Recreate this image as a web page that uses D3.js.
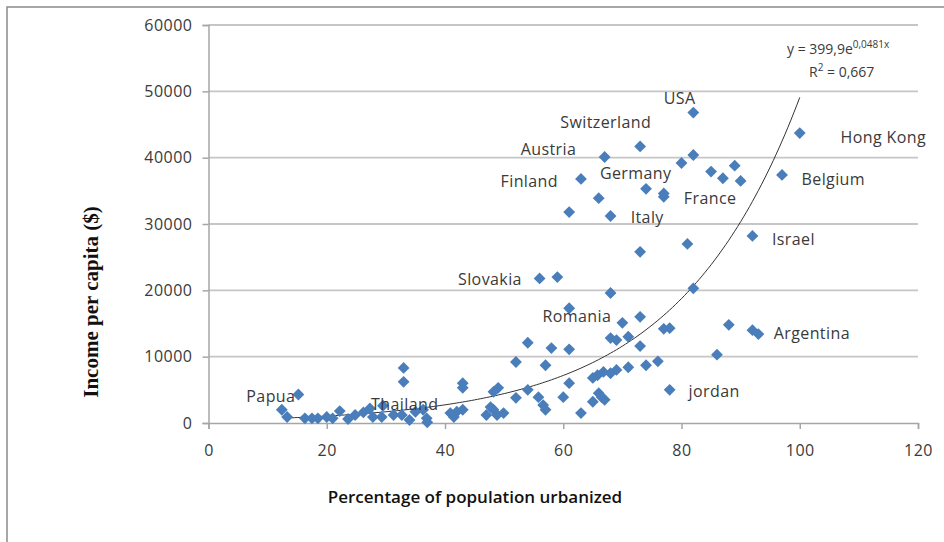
<!DOCTYPE html>
<html><head><meta charset="utf-8">
<script src="https://cdn.jsdelivr.net/npm/d3@7"></script>
<style>body{margin:0;background:#fff}svg{display:block}</style>
</head><body><svg id="c" width="944" height="542"></svg>
<script>
// Percentage of population urbanized (x) and income per capita in $ (y)
const urbanPct = [12.4,13.3,15.2,16.3,17.5,18.5,20,21,22.2,23.6,24.8,26.2,27.3,27.8,29.3,29.5,31.3,32.7,33,33,34,35,36.3,36.9,37,40.9,41.5,42,43,43,43,47,47.7,48.2,48.2,48.8,49,49.9,52,52,54,54,55.8,56.6,57,57,58,56,59,60,61,61,61,63,68,65,65.8,66.8,68,69,71,65,66,67,66.5,68,69,71,70,73,73,74,76,77,78,78,82,73,81,92,88,92,93,86,61,68,66,63,74,77,77,67,73,82,82,80,85,87,89,90,97,100];
const incomeUSD = [2000,900,4300,700,700,700,900,700,1800,600,1200,1600,2200,900,900,2600,1200,1200,8300,6200,450,1700,2000,700,100,1500,900,1700,2000,5300,6000,1200,2400,2000,4700,1200,5300,1500,9200,3800,12100,5000,3900,2700,2000,8700,11300,21800,22000,3900,17300,11100,6000,1500,19600,6800,7200,7700,7500,8000,8400,3200,4500,3500,3900,12800,12500,13000,15100,16000,11600,8700,9300,14200,14300,5000,20300,25800,27000,28200,14800,14000,13400,10300,31800,31200,33900,36800,35300,34600,34100,40100,41700,46800,40400,39200,37900,36900,38800,36500,37400,43700];
// Country labels: name and text anchor in data units
const labelNames = ["USA","Switzerland","Austria","Finland","Germany","France","Italy","Hong Kong","Belgium","Israel","Slovakia","Romania","Argentina","jordan","Papua","Thailand"];
const labelX = [77.0,59.5,52.8,49.4,66.2,80.4,71.4,106.9,100.3,95.3,42.2,56.5,95.6,81.2,6.4,27.5];
const labelY = [48950,45250,41300,36400,37600,33800,31000,43000,36700,27700,21700,16000,13500,4700,4000,2800];
const xTicks = [0,20,40,60,80,100,120];
const yTicks = [0,10000,20000,30000,40000,50000,60000];
// Exponential trend line (from the chart's equation)
const trendA = 399.9, trendB = 0.0481, trendRange = [14,100];

const svg = d3.select("#c");
svg.append("rect").attr("x",7).attr("y",7).attr("width",960).attr("height",560)
  .attr("fill","#fff").attr("stroke","#8a8a8a").attr("stroke-width",1.5);

const x = d3.scaleLinear().domain([0,120]).range([208.5,918]);
const y = d3.scaleLinear().domain([0,60000]).range([423,25]);

// gridlines
svg.append("g").selectAll("line").data(yTicks.filter(d=>d>0)).join("line")
  .attr("x1",x(0)).attr("x2",x(120)).attr("y1",d=>y(d)).attr("y2",d=>y(d))
  .attr("stroke","#c6c6c6").attr("stroke-width",1.8);

const tickFont = "'Open Sans', sans-serif";
const yAxis = svg.append("g").attr("transform",`translate(${x(0)},0)`)
  .call(d3.axisLeft(y).tickValues(yTicks).tickSize(6).tickPadding(10).tickFormat(d3.format("d")));
const xAxis = svg.append("g").attr("transform",`translate(0,${y(0)})`)
  .call(d3.axisBottom(x).tickValues(xTicks).tickSize(6).tickPadding(16));
[yAxis,xAxis].forEach(g=>{
  g.select(".domain").attr("stroke","#a6a6a6").attr("stroke-width",1.5);
  g.selectAll(".tick line").attr("stroke","#a6a6a6").attr("stroke-width",1.5);
  g.selectAll(".tick text").attr("fill","#3a3a3a").style("font-family",tickFont)
    .style("font-size","16px").style("letter-spacing","0.5px");
});

// trend line
const tx = d3.range(trendRange[0], trendRange[1]+0.001, 0.5);
svg.append("path").datum(tx)
  .attr("d", d3.line().x(d=>x(d)).y(d=>y(trendA*Math.exp(trendB*d))))
  .attr("fill","none").attr("stroke","#333").attr("stroke-width",1);

// points
const pts = urbanPct.map((u,i)=>({u, v:incomeUSD[i]}));
svg.append("g").selectAll("path").data(pts).join("path")
  .attr("d", d3.symbol().type(d3.symbolSquare).size(70))
  .attr("transform", d=>`translate(${x(d.u)},${y(d.v)}) rotate(45)`)
  .attr("fill","#4a7ebb");

// country labels
svg.append("g").selectAll("text").data(labelNames).join("text")
  .attr("x",(d,i)=>x(labelX[i])).attr("y",(d,i)=>y(labelY[i]))
  .attr("dy","0.35em")
  .style("font-family",tickFont).style("font-size","16px").style("letter-spacing","0.4px").attr("fill","#3a3a3a")
  .text(d=>d);

// equation
const eq = svg.append("text").attr("x",787).attr("y",54)
  .style("font-family",tickFont).style("font-size","14px").attr("fill","#3a3a3a");
eq.append("tspan").text("y = 399,9e");
eq.append("tspan").attr("dy",-6).style("font-size","10px").text("0,0481x");
const r2 = svg.append("text").attr("x",809).attr("y",77)
  .style("font-family",tickFont).style("font-size","14px").attr("fill","#3a3a3a");
r2.append("tspan").text("R");
r2.append("tspan").attr("dy",-6).style("font-size","10px").text("2");
r2.append("tspan").attr("dy",6).text(" = 0,667");

// axis titles
svg.append("text").attr("x",475).attr("y",503).attr("text-anchor","middle")
  .style("font-family",tickFont).style("font-size","17px").style("font-weight","600").attr("fill","#111")
  .text("Percentage of population  urbanized");
svg.append("text").attr("transform","translate(98,302) rotate(-90)").attr("text-anchor","middle")
  .style("font-family","'Liberation Serif', serif").style("font-weight","bold").style("font-size","21px").attr("fill","#111")
  .text("Income per capita ($)");
</script></body></html>
